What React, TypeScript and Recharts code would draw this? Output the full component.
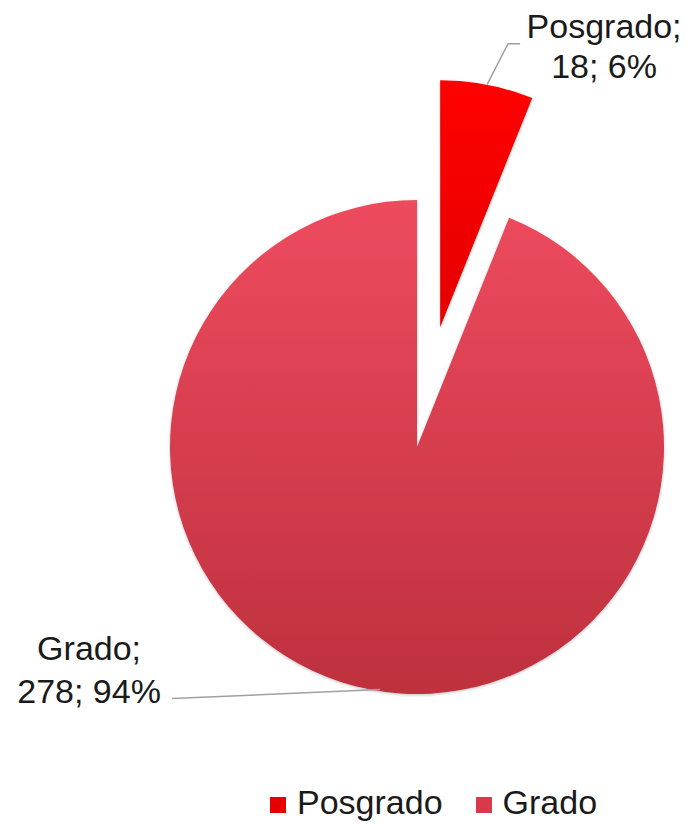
import React from 'react';
import { PieChart, Pie, Cell, Legend, Sector } from 'recharts';

const categories = ['Posgrado', 'Grado'];
const counts = [18, 278];
// how far each slice is pulled out of the pie (px)
const explode = [122, 0];
const gradientStops = [
  ['#FF0000', '#E50000'],
  ['#EE4B5E', '#BE303D'],
];
const legendColors = ['#E80000', '#D83A4B'];

const data = categories.map((name, i) => ({ name, value: counts[i] }));

const RAD = Math.PI / 180;
const FONT = '"Liberation Sans", Arial, sans-serif';
const FONT_SIZE = 34;

const offsetFor = (index: number, midAngle: number) => {
  const d = explode[index] ?? 0;
  return { dx: Math.cos(-midAngle * RAD) * d, dy: Math.sin(-midAngle * RAD) * d };
};

const indexOf = (props: any) => {
  const name = props.name ?? props.payload?.name;
  const i = categories.indexOf(name);
  return i >= 0 ? i : props.index ?? 0;
};

const renderSlice = (props: any) => {
  const { cx, cy, midAngle, innerRadius, outerRadius, startAngle, endAngle, fill } = props;
  const { dx, dy } = offsetFor(indexOf(props), midAngle);
  return (
    <Sector
      cx={cx + dx}
      cy={cy + dy}
      innerRadius={innerRadius}
      outerRadius={outerRadius}
      startAngle={startAngle}
      endAngle={endAngle}
      fill={fill}
      stroke="none"
      filter="url(#pieShadow)"
    />
  );
};

const renderLabel = (props: any) => {
  const { cx, cy, midAngle, outerRadius, name, value, percent } = props;
  const i = indexOf(props);
  const { dx, dy } = offsetFor(i, midAngle);
  // anchor on the outer edge of the (exploded) slice
  const ax = cx + dx + Math.cos(-midAngle * RAD) * outerRadius;
  const ay = cy + dy + Math.sin(-midAngle * RAD) * outerRadius;
  const line1 = `${name};`;
  const line2 = `${value}; ${Math.round(percent * 100)}%`;
  const textProps = { fontFamily: FONT, fontSize: FONT_SIZE, fill: '#1a1a1a', textAnchor: 'middle' as const };

  if (i === 0) {
    const ex = ax + 21;
    const ey = ay - 41;
    return (
      <g>
        <polyline points={`${ax},${ay} ${ex},${ey} ${ex + 12},${ey}`} fill="none" stroke="#a0a0a0" strokeWidth={1.5} />
        <text x={ex + 96} y={ey - 6} {...textProps}>{line1}</text>
        <text x={ex + 96} y={ey + 34} {...textProps}>{line2}</text>
      </g>
    );
  }
  const ex = ax - 198;
  const ey = ay + 9;
  return (
    <g>
      <polyline points={`${ax + 10},${ay} ${ex},${ey}`} fill="none" stroke="#a0a0a0" strokeWidth={1.5} />
      <text x={ex - 83} y={ey - 39} {...textProps}>{line1}</text>
      <text x={ex - 83} y={ey + 4} {...textProps}>{line2}</text>
    </g>
  );
};

const renderLegend = () => (
  <div style={{ display: 'flex', alignItems: 'center', fontFamily: FONT, fontSize: FONT_SIZE, lineHeight: '34px', color: '#1a1a1a' }}>
    {categories.map((c, i) => (
      <div key={c} style={{ display: 'flex', alignItems: 'center', marginRight: 33 }}>
        <span style={{ width: 16, height: 16, background: legendColors[i], display: 'inline-block', marginRight: 11, marginTop: 6 }} />
        <span>{c}</span>
      </div>
    ))}
  </div>
);

export default function App() {
  return (
    <div style={{ position: 'absolute', left: 0, top: 0, width: 690, height: 824, background: '#fff' }}>
      <PieChart width={690} height={824} margin={{ top: 0, right: 0, bottom: 0, left: 0 }}>
        <defs>
          {gradientStops.map((g, i) => (
            <linearGradient key={i} id={`grad${i}`} x1="0" y1="0" x2="0" y2="1">
              <stop offset="0%" stopColor={g[0]} />
              <stop offset="100%" stopColor={g[1]} />
            </linearGradient>
          ))}
          <filter id="pieShadow" x="-10%" y="-10%" width="120%" height="120%">
            <feDropShadow dx="0" dy="1" stdDeviation="1.5" floodColor="#000" floodOpacity="0.25" />
          </filter>
        </defs>
        <Pie
          data={data}
          dataKey="value"
          nameKey="name"
          cx={417}
          cy={447}
          outerRadius={247}
          startAngle={90}
          endAngle={-270}
          stroke="none"
          shape={renderSlice}
          label={renderLabel}
          labelLine={false}
          isAnimationActive={false}
        >
          {data.map((d, i) => (
            <Cell key={d.name} fill={`url(#grad${i})`} />
          ))}
        </Pie>
        <Legend content={renderLegend} wrapperStyle={{ position: 'absolute', left: 270, top: 785, width: 420, bottom: 'auto' }} />
      </PieChart>
    </div>
  );
}
